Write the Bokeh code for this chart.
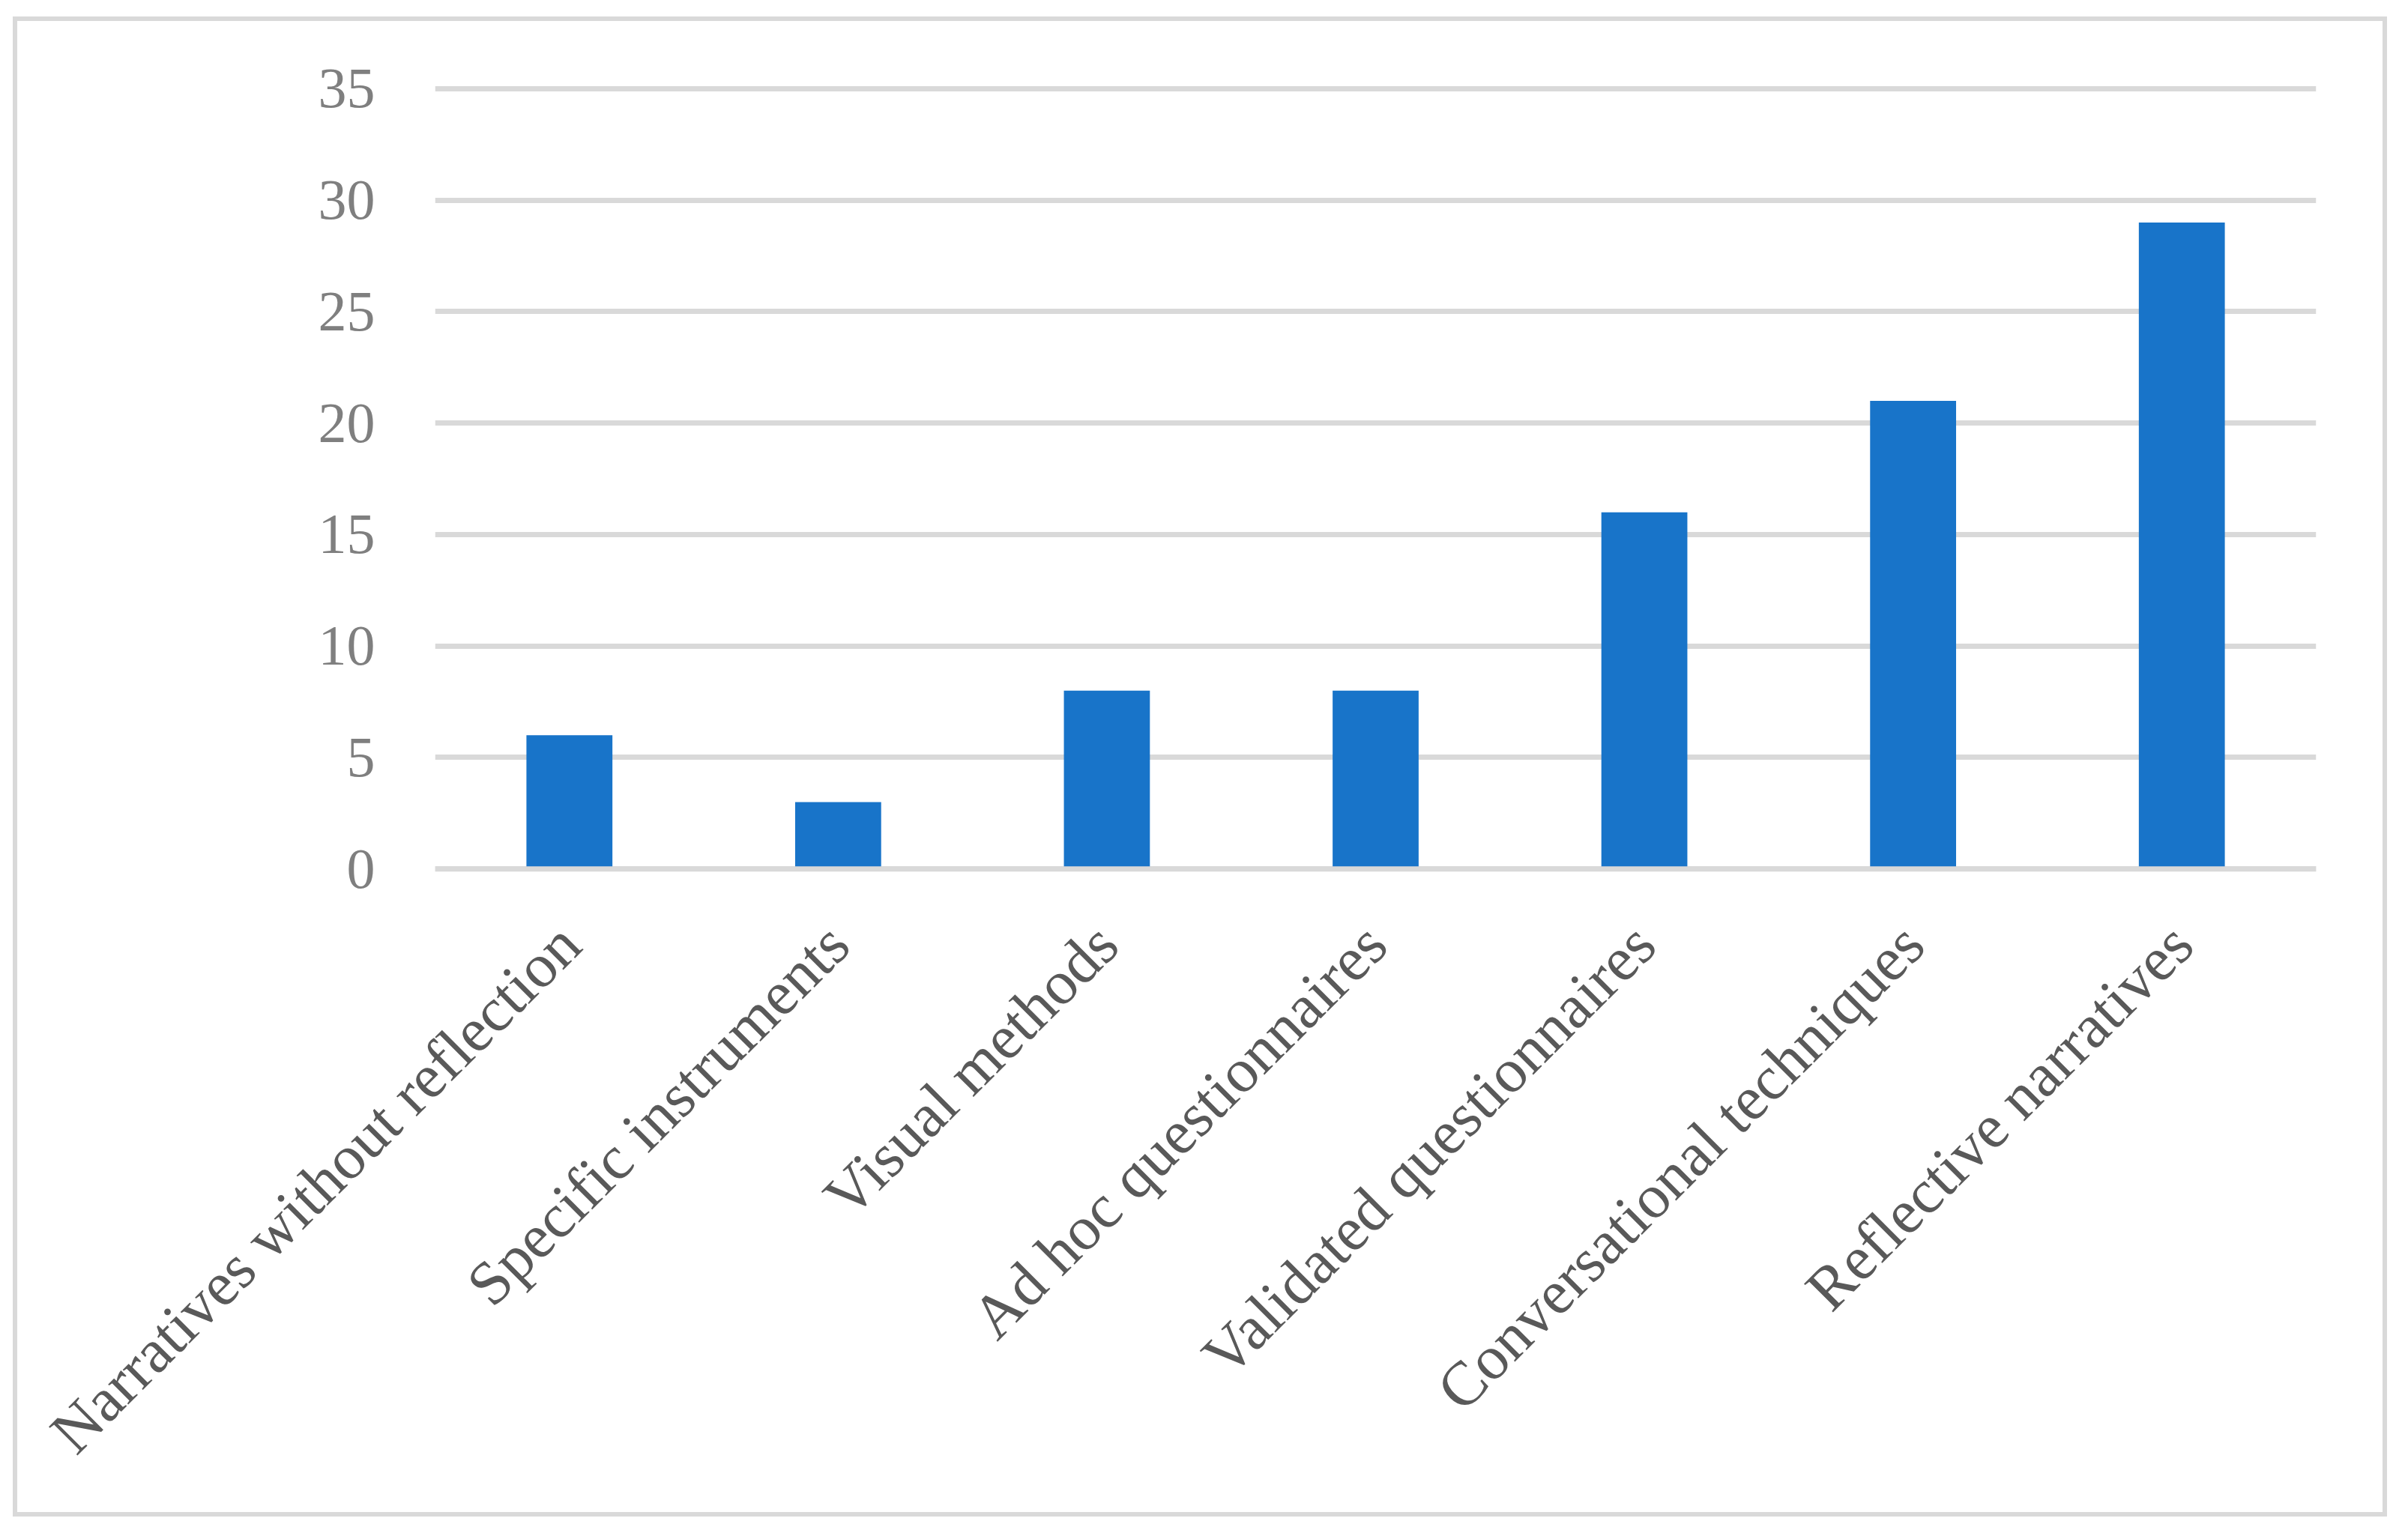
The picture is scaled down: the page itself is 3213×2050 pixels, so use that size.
from bokeh.plotting import figure
from bokeh.models import Range1d, FactorRange, Span, FixedTicker, InlineStyleSheet
from bokeh.embed import file_html
from bokeh.resources import INLINE

categories = ["Narratives without reflection", "Specific instruments", "Visual methods",
              "Ad hoc questionnaires", "Validated questionnaires",
              "Conversational techniques", "Reflective narratives"]
counts = [6, 3, 8, 8, 16, 21, 29]
y_ticks = [0, 5, 10, 15, 20, 25, 30, 35]

W, H = 3197, 2034
p = figure(width=W, height=H, output_backend="svg", toolbar_location=None,
           x_range=FactorRange(*categories, range_padding=0),
           y_range=Range1d(-0.5, 35.5),
           min_border_left=580, min_border_right=107,
           min_border_top=103, min_border_bottom=860)
p.x_range.range_padding = 0

p.vbar(x=categories, top=counts, bottom=0, width=0.32, color="#1874c9", line_color=None)

p.ygrid.grid_line_color = "#d9d9d9"
p.ygrid.grid_line_width = 7
p.xgrid.grid_line_color = None
p.yaxis.ticker = FixedTicker(ticks=y_ticks)

zero = Span(location=0, dimension="width", line_color="#d9d9d9", line_width=7)
p.add_layout(zero)

for ax in (p.xaxis[0], p.yaxis[0]):
    ax.axis_line_color = None
    ax.major_tick_line_color = None
    ax.minor_tick_line_color = None
    ax.major_tick_in = 0
    ax.major_tick_out = 0

p.yaxis.major_label_text_font = "Liberation Serif"
p.yaxis.major_label_text_font_size = "76px"
p.yaxis.major_label_text_color = "#7f7f7f"
p.yaxis.major_label_standoff = 80

p.xaxis.major_label_text_font = "Liberation Serif"
p.xaxis.major_label_text_font_size = "83px"
p.xaxis.major_label_text_color = "#595959"
p.xaxis.major_label_orientation = 0.7853981634
p.xaxis.major_label_standoff = 72

p.outline_line_color = None
p.background_fill_color = "white"
p.border_fill_color = "white"

frame_css = InlineStyleSheet(css="""
:host { position: relative; }
:host::after {
  content: '';
  position: absolute;
  left: 17px; top: 22px;
  width: 3168px; height: 2002px;
  border: 6px solid #d9d9d9;
  box-sizing: border-box;
  pointer-events: none;
}
""")
p.stylesheets = [frame_css]

open("out.html", "w").write(file_html(p, INLINE))
